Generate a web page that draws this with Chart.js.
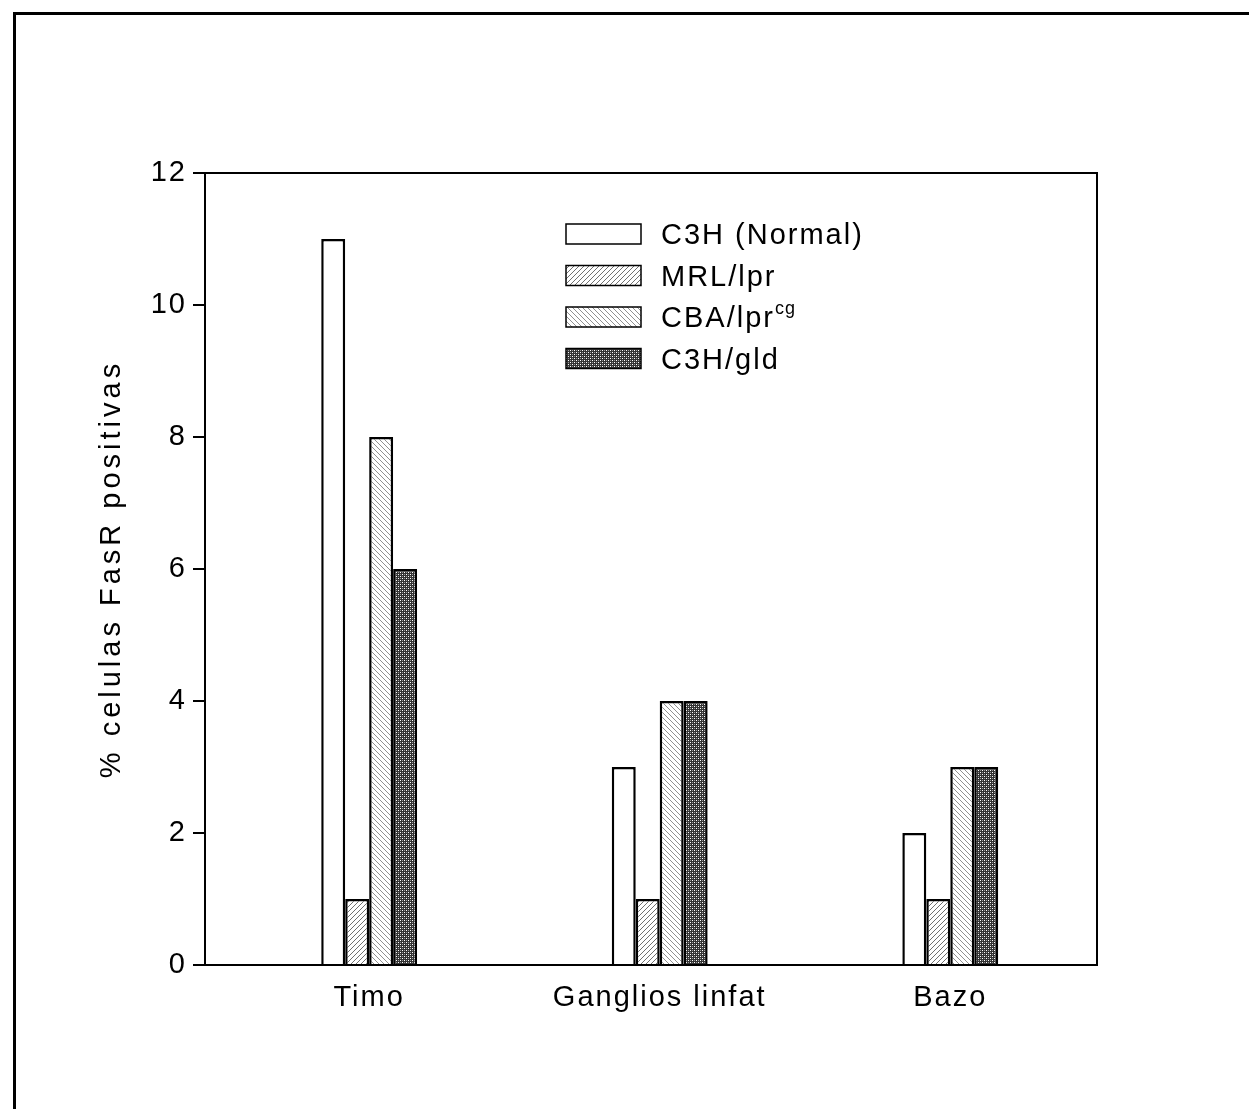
<!DOCTYPE html>
<html>
<head>
<meta charset="utf-8">
<script src="https://cdn.jsdelivr.net/npm/chart.js@4.4.1/dist/chart.umd.min.js"></script>
<style>
  html, body { margin: 0; padding: 0; background: #fff; }
  #wrap { position: relative; width: 1249px; height: 1109px; overflow: hidden; }
  #frame { position: absolute; left: 13px; top: 12px; right: -10px; bottom: -10px;
           border-left: 3px solid #000; border-top: 3px solid #000; }
  canvas { position: absolute; left: 0; top: 0; }
</style>
</head>
<body>
<div id="wrap">
  <div id="frame"></div>
  <canvas id="chart" width="1249" height="1109"></canvas>
</div>
<script>
const categories = ['Timo', 'Ganglios linfat', 'Bazo'];
const seriesNames = ['C3H (Normal)', 'MRL/lpr', 'CBA/lpr', 'C3H/gld'];
const seriesSup = ['', '', 'cg', ''];
const c3hNormal = [11, 3, 2];
const mrlLpr = [1, 1, 1];
const cbaLprCg = [8, 4, 3];
const c3hGld = [6, 4, 3];
const yTicks = [0, 2, 4, 6, 8, 10, 12];
const yTitle = '% celulas FasR positivas';

const FONT = "'Liberation Sans', Arial, sans-serif";
const canvas = document.getElementById('chart');

// small repeating tiles for the hatched fills
function makePattern(size, paint) {
  const c = document.createElement('canvas');
  c.width = size; c.height = size;
  const g = c.getContext('2d');
  g.fillStyle = '#fff';
  g.fillRect(0, 0, size, size);
  paint(g, size);
  return canvas.getContext('2d').createPattern(c, 'repeat');
}

const fills = [
  '#fff',
  makePattern(5, (g, n) => {          // "/" hatch
    g.fillStyle = '#707070';
    for (let i = 0; i < n; i++) g.fillRect(i, n - 1 - i, 1, 1);
  }),
  makePattern(5, (g, n) => {          // "\" hatch, lighter
    g.fillStyle = '#909090';
    for (let i = 0; i < n; i++) g.fillRect(i, i, 1, 1);
  }),
  makePattern(4, (g, n) => {          // dense cross hatch
    g.fillStyle = '#333';
    g.fillRect(0, 0, n, n);
    g.fillStyle = '#fff';
    g.fillRect(0, 0, 1, 1);
    g.fillRect(2, 2, 1, 1);
    g.fillStyle = '#999';
    g.fillRect(2, 0, 1, 1);
    g.fillRect(0, 2, 1, 1);
  })
];

const seriesValues = [c3hNormal, mrlLpr, cbaLprCg, c3hGld];

const datasets = seriesValues.map((vals, k) => ({
  label: seriesNames[k] + seriesSup[k],
  data: vals.map((v, i) => ({ x: i, y: v })),
  backgroundColor: fills[k],
  borderColor: '#000',
  borderWidth: 2.5,
  categoryPercentage: 0.33,
  barPercentage: 1.0
}));

const framePlugin = {
  id: 'plotFrame',
  beforeLayout(chart) { chart.ctx.letterSpacing = '2px'; },
  beforeDraw(chart) { chart.ctx.letterSpacing = '2px'; },
  afterDraw(chart) {
    const { ctx, chartArea: a } = chart;
    const yScale = chart.scales.y;
    ctx.save();
    ctx.strokeStyle = '#000';
    ctx.lineWidth = 2;
    ctx.beginPath();
    ctx.moveTo(a.left, a.top);
    ctx.lineTo(a.right, a.top);
    ctx.lineTo(a.right, a.bottom);
    ctx.stroke();

    // rotated y axis title
    ctx.save();
    ctx.translate(yScale.left + 112, (a.top + a.bottom) / 2);
    ctx.rotate(-Math.PI / 2);
    ctx.font = '29px ' + FONT;
    ctx.letterSpacing = '4px';
    ctx.textAlign = 'center';
    ctx.textBaseline = 'middle';
    ctx.fillStyle = '#000';
    ctx.fillText(yTitle, 0, 0);
    ctx.restore();

    // legend inside the plot
    const boxX = a.left + 361, boxW = 75, boxH = 20;
    const rowY0 = a.top + 61, rowStep = 41.5;
    ctx.textBaseline = 'middle';
    ctx.textAlign = 'left';
    ctx.letterSpacing = '2px';
    chart.data.datasets.forEach((ds, k) => {
      const cy = rowY0 + k * rowStep;
      ctx.fillStyle = ds.backgroundColor;
      ctx.fillRect(boxX, cy - boxH / 2, boxW, boxH);
      ctx.lineWidth = 1.5;
      ctx.strokeStyle = '#000';
      ctx.strokeRect(boxX, cy - boxH / 2, boxW, boxH);
      ctx.fillStyle = '#000';
      ctx.font = '29px ' + FONT;
      const tx = boxX + 95;
      ctx.fillText(seriesNames[k], tx, cy + 2);
      if (seriesSup[k]) {
        const w = ctx.measureText(seriesNames[k]).width;
        ctx.font = '18px ' + FONT;
        ctx.letterSpacing = '1px';
        ctx.fillText(seriesSup[k], tx + w, cy - 8);
        ctx.letterSpacing = '2px';
      }
    });
    ctx.restore();
  }
};

new Chart(canvas, {
  type: 'bar',
  data: { datasets },
  plugins: [framePlugin],
  options: {
    responsive: false,
    animation: false,
    devicePixelRatio: 1,
    layout: { padding: { left: 0, right: 152, top: 173, bottom: 84 } },
    plugins: { legend: { display: false }, tooltip: { enabled: false } },
    scales: {
      x: {
        type: 'linear',
        min: -0.565,
        max: 2.505,
        offset: false,
        afterBuildTicks: s => { s.ticks = categories.map((_, i) => ({ value: i })); },
        afterFit: s => { s.height = 60; },
        grid: { display: true, drawOnChartArea: false, drawTicks: false },
        border: { color: '#000', width: 2 },
        ticks: {
          callback: v => categories[v],
          color: '#000',
          font: { family: FONT, size: 29 },
          padding: 16,
          maxRotation: 0,
          autoSkip: false
        }
      },
      y: {
        min: 0,
        max: 12,
        afterBuildTicks: s => { s.ticks = yTicks.map(v => ({ value: v })); },
        afterFit: s => { s.width = 205; },
        grid: { drawOnChartArea: false, color: '#000', lineWidth: 2, tickLength: 12 },
        border: { color: '#000', width: 2 },
        ticks: { color: '#000', font: { family: FONT, size: 29 }, padding: 6 },
        title: { display: false }
      }
    }
  }
});
</script>
</body>
</html>
